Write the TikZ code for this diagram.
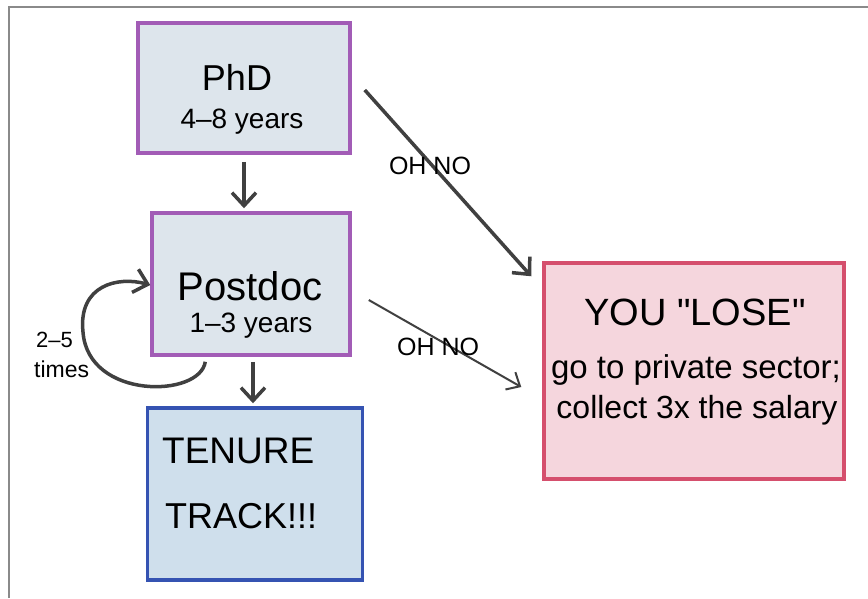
\documentclass[tikz,border=0pt]{standalone}
\usepackage{fontspec}
\setmainfont{Liberation Sans}[Ligatures=TeXOff]
\usetikzlibrary{arrows.meta}
\definecolor{phdpurple}{HTML}{A25CB6}
\definecolor{phdfill}{HTML}{DDE5EC}
\definecolor{tenureblue}{HTML}{3553B2}
\definecolor{tenurefill}{HTML}{CFDFEC}
\definecolor{losered}{HTML}{D54F6D}
\definecolor{losefill}{HTML}{F5D6DD}
\definecolor{inkgray}{HTML}{404040}
\definecolor{framegray}{HTML}{8A8A8A}
\newcommand{\handsize}[1]{\fontsize{#1}{#1}\selectfont}
\tikzset{
    stagebox/.style={draw=phdpurple,fill=phdfill,line width=3.5pt,inner sep=0pt},
    hand/.style={anchor=base,inner sep=0pt,font=\handsize{#1}},
    flow/.style={draw=inkgray,line width=3.5pt,-{Straight Barb[length=13pt,width=24pt]}},
    thinflow/.style={draw=inkgray,line width=2pt,-{Straight Barb[length=11pt,width=20pt]}},
    ohno/.style={font=\handsize{25}}
}

\begin{document}
\begin{tikzpicture}[x=1pt,y=-1pt]
    \useasboundingbox (0,0) rectangle (868,598);
    \fill[white] (0,0) rectangle (868,598);
    \draw[framegray,line width=1.5pt] (9,598) -- (9,7) -- (868,7);

    % boxes
    \node[stagebox,minimum width=212pt,minimum height=130pt] (phd) at (244,88) {};
    \node[stagebox,minimum width=198pt,minimum height=142pt] (postdoc) at (251,284) {};
    \node[stagebox,draw=tenureblue,fill=tenurefill,minimum width=215pt,minimum height=172pt] (tenure) at (255,494) {};
    \node[stagebox,draw=losered,fill=losefill,minimum width=300pt,minimum height=216pt] (lose) at (694,371) {};

    % box texts
    \node[hand=36] (phdname) at (237,90) {PhD};
    \node[hand=28] (phdyears) at (242,128) {4–8 years};
    \node[hand=40] (postdocname) at (250,300) {Postdoc};
    \node[hand=28] (postdocyears) at (251,332) {1–3 years};
    \node[hand=37,anchor=base west] (tenureone) at (162,463) {TENURE};
    \node[hand=36,anchor=base west] (tenuretwo) at (165,528) {TRACK!!!};
    \node[hand=38] (losename) at (695,325) {YOU "LOSE"};
    \node[hand=33] (loseone) at (696,378) {go to private sector;};
    \node[hand=32] (losetwo) at (697,418) {collect 3x the salary};

    % arrows
    \draw[flow] ([yshift=-7pt]phd.south) -- ([yshift=3pt]phd.south |- postdoc.north);
    \draw[flow] ([xshift=2pt,yshift=-5pt]postdoc.south) -- ([xshift=2pt,yshift=3pt]postdoc.south |- tenure.north);
    \draw[flow] ([xshift=13pt,yshift=-2pt]phd.east) -- ([xshift=-11pt,yshift=-15pt]lose.north west)
        node[ohno,pos=0.41,xshift=-3pt] (ohnoone) {OH NO};
    \draw[thinflow] ([xshift=17pt,yshift=-16pt]postdoc.east) -- ([xshift=-21pt,yshift=-16pt]lose.west)
        node[ohno,pos=0.455,yshift=-7pt] (ohnotwo) {OH NO};
    \draw[flow] ([xshift=55pt,yshift=-5pt]postdoc.south west) .. controls (200,398) and (88,400) .. (83,332)
        .. controls (78,285) and (118,276) .. ([yshift=-1pt]postdoc.west);
    \node[hand=22,anchor=base west] (timesnum) at (36,347) {2–5};
    \node[hand=23,anchor=base west] (timesword) at (34,377) {times};
\end{tikzpicture}
\end{document}
